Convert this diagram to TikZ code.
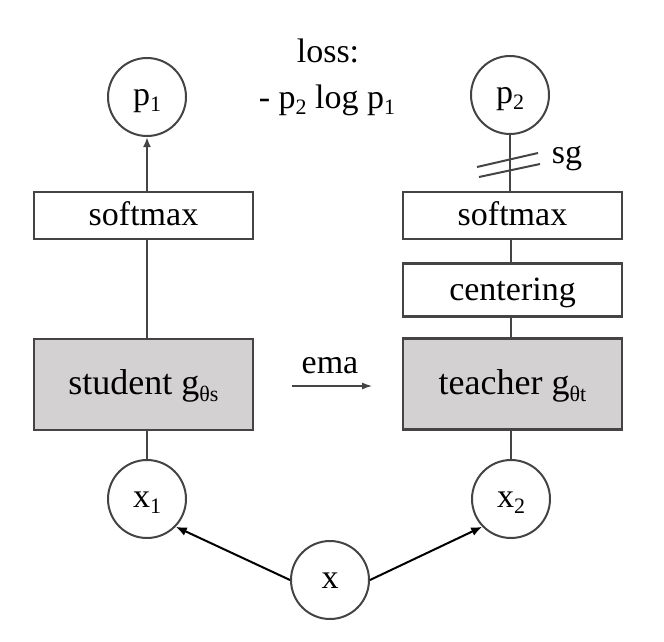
\documentclass[tikz,border=0pt]{standalone}
\usepackage{fontspec}
\setmainfont{Liberation Serif}
\usetikzlibrary{arrows.meta}
\definecolor{edge}{HTML}{444444}
\definecolor{boxfill}{HTML}{D3D1D2}
\newcommand\sbx[1]{\raisebox{-0.2em}{\fontsize{22}{22}\selectfont #1}}
\tikzset{
  txt/.style={font=\fontsize{34}{36}\selectfont},
  circ/.style={circle, draw=edge, line width=2pt, minimum size=78pt, inner sep=0pt, fill=white, txt, text height=24pt, text depth=8pt},
  plainbox/.style={rectangle, draw=edge, line width=2.5pt, minimum width=219pt, inner sep=0pt, fill=white, txt, text height=26pt, text depth=6pt},
  netbox/.style={plainbox, fill=boxfill, minimum height=91pt, font=\fontsize{36}{38}\selectfont},
  link/.style={draw=edge, line width=2pt},
  inarrow/.style={draw=black, line width=2pt, -{Latex[length=11pt,width=9pt]}},
}
\begin{document}
\begin{tikzpicture}[x=1pt,y=-1pt]
\useasboundingbox (0,0) rectangle (664,642);
% circles
\node[circ] (p1) at (147,97) {p\sbx{1}};
\node[circ] (p2) at (510,95) {p\sbx{2}};
\node[circ] (x1) at (147,499) {x\sbx{1}};
\node[circ] (x2) at (511,499) {x\sbx{2}};
\node[circ] (x)  at (330,580) {x};
% boxes
\node[plainbox, minimum height=47pt] (sm1) at (143.5,215.5) {softmax};
\node[plainbox, minimum height=47pt] (sm2) at (512.5,215.5) {softmax};
\node[plainbox, minimum height=53pt] (cen) at (512.5,290) {centering};
\node[netbox] (stu) at (143.5,384.5) {student g\sbx{θs}};
\node[netbox] (tea) at (512.5,384) {teacher g\sbx{θt}};
% loss text
\node[txt, anchor=base] (loss) at (328,63) {loss:};
\node[txt, anchor=base] (lossf) at (327,108) {- p\sbx{2} log p\sbx{1}};
% left column
\draw[link, -{Latex[length=10pt,width=8pt]}] (sm1.north -| p1.center) -- (p1.south);
\draw[link] (sm1.south -| p1.center) -- (stu.north -| p1.center);
\draw[link] (stu.south -| x1.center) -- (x1.north);
% right column
\draw[link] (p2.south) -- (sm2.north -| p2.center);
\draw[link] (sm2.south -| x2.center) -- (cen.north -| x2.center);
\draw[link] (cen.south -| x2.center) -- (tea.north -| x2.center);
\draw[link] (tea.south -| x2.center) -- (x2.north);
% stop-gradient marks
\coordinate (sgc) at (508,160);
\draw[link] ([shift={(-31,7)}]sgc) -- ([shift={(30,-7)}]sgc);
\draw[link] ([shift={(-29,17)}]sgc) -- ([shift={(32,4)}]sgc);
\node[txt, anchor=base] (sg) at (567,163) {sg};
% ema
\coordinate (emas) at (292,386);
\coordinate (emae) at (372,386);
\draw[draw=edge, line width=1.2pt, -{Latex[length=10pt,width=7pt]}] (emas) -- (emae);
\node[txt, anchor=base] (ema) at (330,373) {ema};
% inputs
\draw[inarrow] (x.west) -- (x1.-44);
\draw[inarrow] (x.east) -- (x2.-136);
\end{tikzpicture}
\end{document}
